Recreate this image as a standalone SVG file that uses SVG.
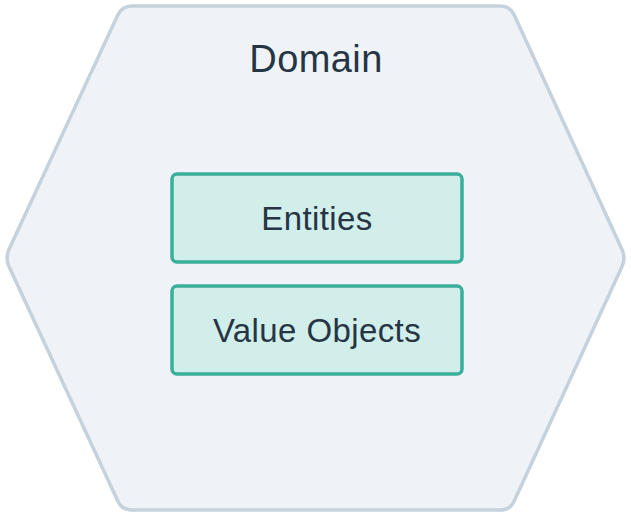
<svg xmlns="http://www.w3.org/2000/svg" width="631" height="516" viewBox="0 0 631 516">
<style>
.hex{fill:#eff3f7;stroke:#c5d2dd;stroke-width:3.5}
.box{fill:#d1eeea;stroke:#3aaf9b;stroke-width:3.5}
.t{font-family:"Liberation Sans",Arial,sans-serif;fill:#263544;text-anchor:middle;letter-spacing:0.4px}
</style>
<g id="domain">
<path class="hex" d="M132,6 L500,6 Q510,6 514.2,15.1 L621.8,248.9 Q626,258 621.8,267.1 L514.2,500.9 Q510,510 500,510 L132,510 Q122,510 117.8,500.9 L9.2,267.1 Q5,258 9.2,248.9 L117.8,15.1 Q122,6 132,6 Z"/>
<text class="t" x="316" y="72" font-size="38">Domain</text>
</g>
<g id="entities">
<rect class="box" x="172" y="174" width="290" height="88" rx="5"/>
<text class="t" x="317" y="230" font-size="33">Entities</text>
</g>
<g id="value-objects">
<rect class="box" x="172" y="286" width="290" height="88" rx="5"/>
<text class="t" x="317" y="342" font-size="33">Value Objects</text>
</g>
<g id="connectors"/>
</svg>
